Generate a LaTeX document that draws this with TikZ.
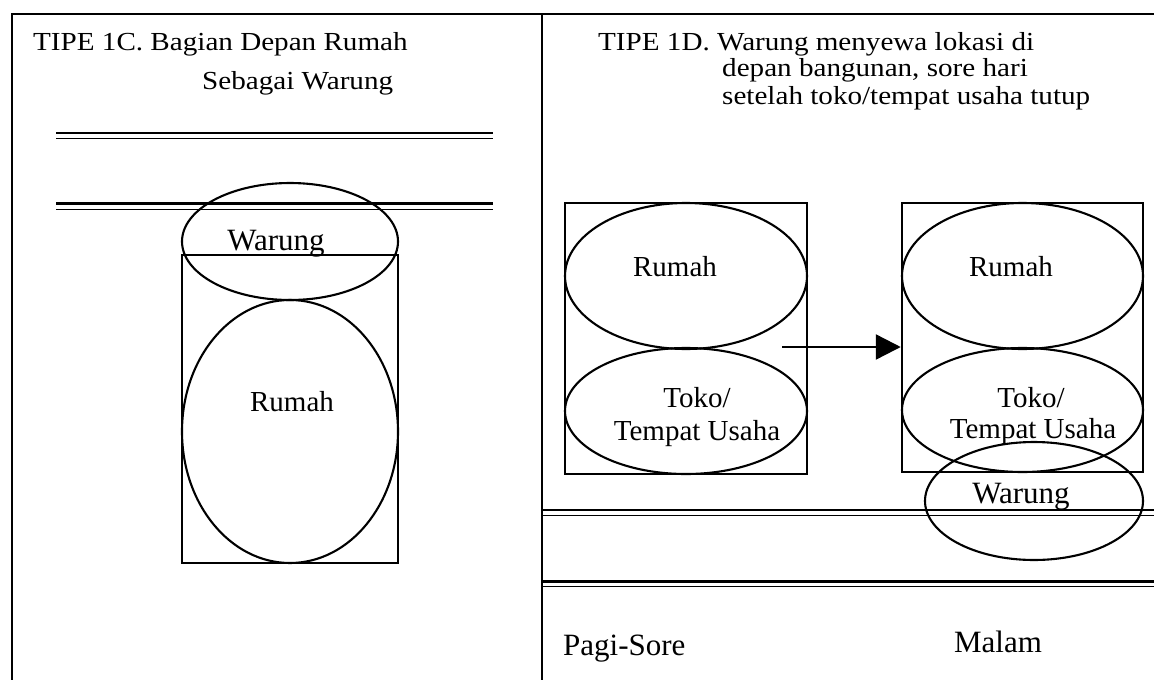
\documentclass[tikz,border=0pt]{standalone}
\usepackage{fontspec}
\setmainfont{Liberation Serif}
\newfontfamily\titlefont[FakeStretch=1.12]{Liberation Serif}
\usetikzlibrary{shapes.geometric,arrows.meta}
\tikzset{
  frame/.style={line width=2.4pt},
  road/.style={line width=2.1pt},
  roadthin/.style={line width=1.5pt},
  oval/.style={draw, ellipse, line width=2.1pt, inner sep=0pt},
  box/.style={draw, rectangle, line width=2.5pt, inner sep=0pt},
  lbl/.style={anchor=base, font=\fontsize{29}{33}\selectfont, inner sep=0pt},
  biglbl/.style={anchor=base, font=\fontsize{31}{35}\selectfont, inner sep=0pt},
  ttl/.style={anchor=base west, font=\titlefont\fontsize{26}{27}\selectfont, inner sep=0pt},
  flow/.style={line width=2.4pt, -{Triangle[length=25pt,width=25pt]}}
}
\begin{document}
\begin{tikzpicture}[x=1pt,y=-1pt]
\useasboundingbox (0,0) rectangle (1154,680);
% frame
\draw[frame] (12,680) -- (12,14) -- (1154,14);
\draw[frame] (542,14) -- (542,680);

% ---------- left panel: TIPE 1C ----------
\node[ttl] (t1a) at (33,50) {TIPE 1C. Bagian Depan Rumah};
\node[ttl] (t1b) at (202,89) {Sebagai Warung};
\draw[road] (56,133) -- (493,133);
\draw[roadthin] (56,138.5) -- (493,138.5);
\draw[road] (56,203.5) -- (493,203.5);
\draw[roadthin] (56,209.5) -- (493,209.5);

\node[box, minimum width=216pt, minimum height=308pt] (bL) at (290,409) {};
\node[oval, minimum width=216pt, minimum height=117pt] (eWL) at (290,241.5) {};
\node[oval, minimum width=216pt, minimum height=263pt] (eRL) at (290,431.5) {};
\node[biglbl] (tWL) at (276,250) {Warung};
\node[lbl] (tRL) at (292,411) {Rumah};

% ---------- right panel: TIPE 1D ----------
\node[ttl] (t2a) at (598,50) {TIPE 1D. Warung menyewa lokasi di};
\node[ttl] (t2b) at (722,76) {depan bangunan, sore hari};
\node[ttl] (t2c) at (722,104) {setelah toko/tempat usaha tutup};

% day
\node[box, minimum width=242pt, minimum height=271pt] (bA) at (686,338.5) {};
\node[oval, minimum width=242pt, minimum height=146pt] (eRA) at (686,276) {};
\node[oval, minimum width=242pt, minimum height=126pt] (eTA) at (686,411) {};
\node[lbl] (tRA) at (675,276) {Rumah};
\node[lbl] (tTA1) at (697,407) {Toko/};
\node[lbl] (tTA2) at (697,440) {Tempat Usaha};

% night
\node[box, minimum width=241pt, minimum height=269pt] (bB) at (1022.5,337.5) {};
\node[oval, minimum width=241pt, minimum height=146pt] (eRB) at (1022.5,276) {};
\node[oval, minimum width=241pt, minimum height=124pt] (eTB) at (1022.5,410) {};
\node[oval, minimum width=218pt, minimum height=118pt] (eWB) at (1034,501) {};
\node[lbl] (tRB) at (1011,276) {Rumah};
\node[lbl] (tTB1) at (1031,407) {Toko/};
\node[lbl] (tTB2) at (1033,438) {Tempat Usaha};
\node[biglbl] (tWB) at (1021,503) {Warung};

% arrow
\coordinate (arrowStart) at (782,347);
\draw[flow] (arrowStart) -- (arrowStart -| bB.west);

% roads
\draw[road] (542,510) -- (1154,510);
\draw[roadthin] (542,515.5) -- (1154,515.5);
\draw[road] (542,581.5) -- (1154,581.5);
\draw[roadthin] (542,586.5) -- (1154,586.5);

% time labels
\node[biglbl, anchor=base west] (tPagi) at (563,655) {Pagi-Sore};
\node[biglbl] (tMalam) at (998,652) {Malam};
\end{tikzpicture}
\end{document}
